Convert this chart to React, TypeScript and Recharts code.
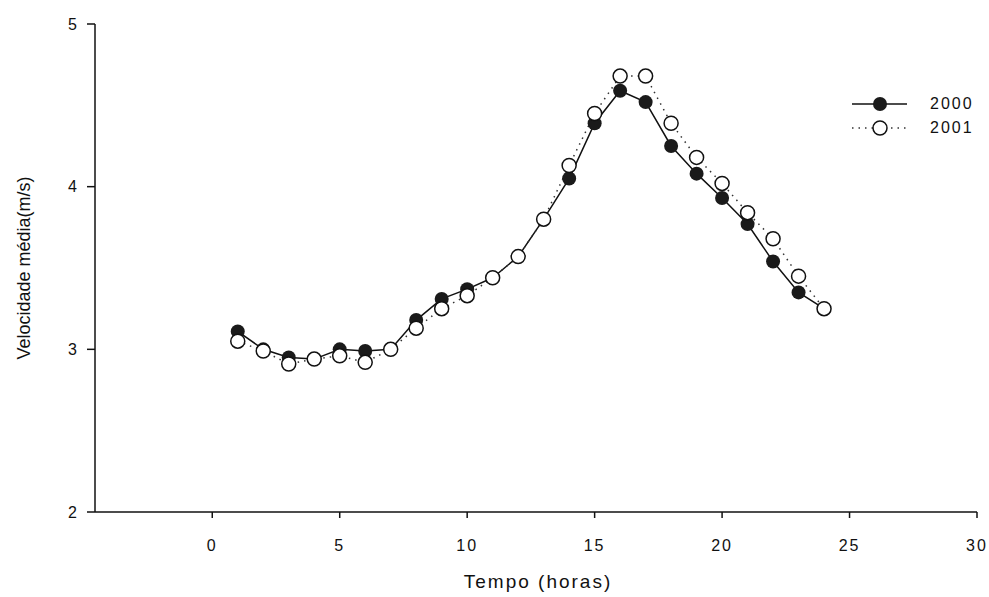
import { LineChart, Line, XAxis, YAxis } from 'recharts';

const hours = [1, 2, 3, 4, 5, 6, 7, 8, 9, 10, 11, 12, 13, 14, 15, 16, 17, 18, 19, 20, 21, 22, 23, 24];
const speed2000 = [3.11, 3.0, 2.95, 2.94, 3.0, 2.99, 3.0, 3.18, 3.31, 3.37, 3.44, 3.57, 3.8, 4.05, 4.39, 4.59, 4.52, 4.25, 4.08, 3.93, 3.77, 3.54, 3.35, 3.25];
const speed2001 = [3.05, 2.99, 2.91, 2.94, 2.96, 2.92, 3.0, 3.13, 3.25, 3.33, 3.44, 3.57, 3.8, 4.13, 4.45, 4.68, 4.68, 4.39, 4.18, 4.02, 3.84, 3.68, 3.45, 3.25];
const xTicks = [0, 5, 10, 15, 20, 25, 30];
const yTicks = [2, 3, 4, 5];

const data = hours.map((h, i) => ({ hora: h, y2000: speed2000[i], y2001: speed2001[i] }));

const FONT = '"Liberation Sans", Arial, sans-serif';

// legend drawn outside recharts so it doesn't eat plot width
function LegendBox() {
  return (
    <div style={{ position: 'absolute', top: 92, left: 850, fontFamily: FONT, fontSize: 16, color: '#111', letterSpacing: 2 }}>
      <div style={{ display: 'flex', alignItems: 'center', height: 24 }}>
        <svg width={60} height={20}>
          <line x1={2} y1={10} x2={57} y2={10} stroke="#111" strokeWidth={1.5} />
          <circle cx={30} cy={10} r={7} fill="#1a1a1a" />
        </svg>
        <span style={{ marginLeft: 20 }}>2000</span>
      </div>
      <div style={{ display: 'flex', alignItems: 'center', height: 24 }}>
        <svg width={60} height={20}>
          <line x1={2} y1={10} x2={57} y2={10} stroke="#333" strokeWidth={1.5} strokeDasharray="1.5 5" />
          <circle cx={30} cy={10} r={7} fill="#fff" stroke="#111" strokeWidth={1.5} />
        </svg>
        <span style={{ marginLeft: 20 }}>2001</span>
      </div>
    </div>
  );
}

export default function App() {
  return (
    <div style={{ position: 'fixed', left: 0, top: 0, width: 989, height: 597, background: '#fff' }}>
      <LineChart width={989} height={597} data={data} margin={{ top: 24, right: 12, bottom: 25, left: 45 }}>
        <XAxis
          dataKey="hora"
          type="number"
          domain={[-4.6, 30]}
          ticks={xTicks}
          height={60}
          stroke="#111"
          strokeWidth={1.5}
          tickSize={6}
          tickMargin={22}
          tick={{ fill: '#111', fontSize: 16, fontFamily: FONT, letterSpacing: 2 }}
          label={{
            content: () => (
              <text x={538} y={588} textAnchor="middle" fill="#111" fontSize={19} fontFamily={FONT} letterSpacing={2}>
                Tempo (horas)
              </text>
            ),
          }}
        />
        <YAxis
          type="number"
          domain={[2, 5]}
          ticks={yTicks}
          width={50}
          stroke="#111"
          strokeWidth={1.5}
          tickSize={8}
          tickMargin={10}
          tick={{ fill: '#111', fontSize: 16, fontFamily: FONT }}
          label={{
            content: () => (
              <text
                x={30}
                y={268}
                textAnchor="middle"
                fill="#111"
                fontSize={18}
                fontFamily={FONT}
                transform="rotate(-90 30 268)"
              >
                Velocidade média(m/s)
              </text>
            ),
          }}
        />
        <Line
          dataKey="y2000"
          stroke="#111"
          strokeWidth={1.5}
          dot={{ r: 7, fill: '#1a1a1a', stroke: '#1a1a1a', strokeWidth: 0 }}
          isAnimationActive={false}
        />
        <Line
          dataKey="y2001"
          stroke="#333"
          strokeWidth={1.5}
          strokeDasharray="1.5 5"
          dot={{ r: 7, fill: '#fff', stroke: '#111', strokeWidth: 1.5, strokeDasharray: '' }}
          isAnimationActive={false}
        />
      </LineChart>
      <LegendBox />
    </div>
  );
}
